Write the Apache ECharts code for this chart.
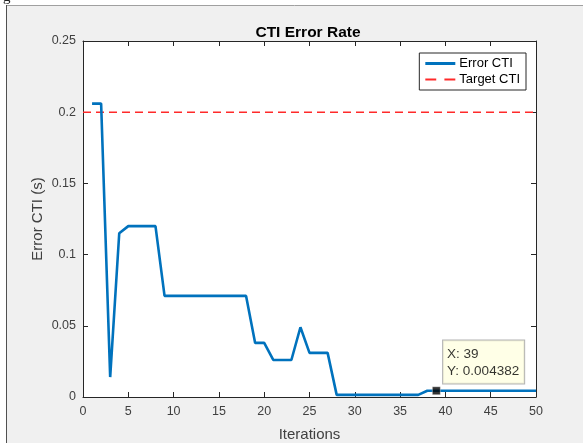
<!DOCTYPE html>
<html><head><meta charset="utf-8">
<script src="https://cdn.jsdelivr.net/npm/echarts@6/dist/echarts.min.js"></script>
<style>html,body{margin:0;padding:0;background:#fff}#c{width:583px;height:443px}</style>
</head><body><div id="c"></div>
<script>
const iterations = [1,2,3,4,5,6,7,8,9,10,11,12,13,14,15,16,17,18,19,20,21,22,23,24,25,26,27,28,29,30,31,32,33,34,35,36,37,38,39,40,41,42,43,44,45,46,47,48,49,50];
const errorCti = [0.206,0.206,0.014,0.115,0.12,0.12,0.12,0.12,0.071,0.071,0.071,0.071,0.071,0.071,0.071,0.071,0.071,0.071,0.038,0.038,0.026,0.026,0.026,0.049,0.031,0.031,0.031,0.0015,0.0015,0.0015,0.0015,0.0015,0.0015,0.0015,0.0015,0.0015,0.0015,0.004382,0.004382,0.004382,0.004382,0.004382,0.004382,0.004382,0.004382,0.004382,0.004382,0.004382,0.004382,0.004382];
const targetX = [0, 50];
const targetCti = 0.2;
const tipPoint = [39, 0.004382];
const xTicks = {min:0, max:50, interval:5};
const yTicks = {min:0, max:0.25, interval:0.05};

const axColor = '#262626';
const lblColor = '#404040';
const font = 'Liberation Sans, Arial, Helvetica, sans-serif';
const chart = echarts.init(document.getElementById('c'), null, {renderer:'canvas'});
const tick = {show:true, inside:true, length:5, lineStyle:{color:axColor, width:1}};
const baseX = {type:'value', min:xTicks.min, max:xTicks.max, interval:xTicks.interval,
  axisLine:{show:true, onZero:false, lineStyle:{color:axColor, width:1}},
  axisTick:tick, splitLine:{show:false}};
const baseY = {type:'value', min:yTicks.min, max:yTicks.max, interval:yTicks.interval,
  axisLine:{show:true, onZero:false, lineStyle:{color:axColor, width:1}},
  axisTick:tick, splitLine:{show:false}};
chart.setOption({
  backgroundColor:'#ffffff',
  animation:false,
  textStyle:{fontFamily:font},
  graphic:[
    {type:'rect', z:-100, shape:{x:6, y:5, width:600, height:460}, style:{fill:'#f0f0f0'}},
    {type:'line', z:-99, shape:{x1:6, y1:5.5, x2:583, y2:5.5}, style:{stroke:'#a0a0a0', lineWidth:1}},
    {type:'line', z:-99, shape:{x1:6.5, y1:5, x2:6.5, y2:443}, style:{stroke:'#505050', lineWidth:1}},
    {type:'rect', z:-98, shape:{x:83, y:41, width:453, height:356}, style:{fill:'#ffffff'}},
    {type:'text', z:-98, left:3, top:-10, style:{text:'g', font:'15px "Liberation Serif", serif', fill:'#222'}}
  ],
  title:{text:'CTI Error Rate', left:303, top:20, textAlign:'center',
    textStyle:{fontSize:15.5, fontWeight:'bold', color:'#000', fontFamily:font}},
  grid:{left:83, right:47, top:41, bottom:46, show:false, containLabel:false, outerBoundsMode:'none'},
  legend:{orient:'vertical', right:57, top:53, backgroundColor:'#ffffff', borderColor:axColor, borderWidth:1,
    padding:[4,6,4,6], itemGap:3, itemWidth:30, itemHeight:3,
    textStyle:{fontSize:13, color:'#000', fontFamily:font, padding:[0,0,0,-1]},
    data:[
      {name:'Error CTI', icon:'path://M0,0 L30,0 L30,3 L0,3 Z', itemStyle:{color:'#0072BD'}},
      {name:'Target CTI', icon:'path://M0,0 L8,0 L8,1.6 L0,1.6 Z M14,0 L22,0 L22,1.6 L14,1.6 Z', itemStyle:{color:'#ff2a2a'}}
    ]},
  xAxis:[
    Object.assign({}, baseX, {position:'bottom', name:'Iterations', nameLocation:'middle', nameGap:30,
      nameMoveOverlap:false,
      nameTextStyle:{fontSize:15, color:lblColor, fontFamily:font},
      axisLabel:{fontSize:12.5, color:lblColor, margin:8, fontFamily:font}}),
    Object.assign({}, baseX, {position:'top', axisLabel:{show:false}})
  ],
  yAxis:[
    Object.assign({}, baseY, {position:'left', name:'Error CTI (s)', nameLocation:'middle', nameGap:38,
      nameMoveOverlap:false,
      nameTextStyle:{fontSize:15, color:lblColor, fontFamily:font},
      axisLabel:{fontSize:12.5, color:lblColor, margin:7, fontFamily:font}}),
    Object.assign({}, baseY, {position:'right', axisLabel:{show:false}})
  ],
  series:[
    {name:'Error CTI', type:'line', data:iterations.map((x,i)=>[x, errorCti[i]]), showSymbol:false, symbol:'none',
      lineStyle:{color:'#0072BD', width:2.6}, itemStyle:{color:'#0072BD'}, z:3},
    {name:'Target CTI', type:'line', data:targetX.map(x=>[x, targetCti]), showSymbol:false, symbol:'none',
      lineStyle:{color:'#ff2a2a', width:1.5, type:[8,5]}, itemStyle:{color:'#ff2a2a'}, z:2},
    {name:'tip', type:'scatter', data:[tipPoint], symbol:'rect', symbolSize:8,
      itemStyle:{color:'#000', borderColor:'#fff', borderWidth:0.5}, z:5,
      label:{show:true, position:[11,-46], align:'left', verticalAlign:'top',
        formatter:'X: ' + tipPoint[0] + '\nY: ' + tipPoint[1],
        backgroundColor:'#ffffe1', borderColor:'#a0a0a0', borderWidth:1,
        padding:[5,5,4,4], lineHeight:17, fontSize:13.5, color:'#000', fontFamily:font}}
  ]
});
</script></body></html>
